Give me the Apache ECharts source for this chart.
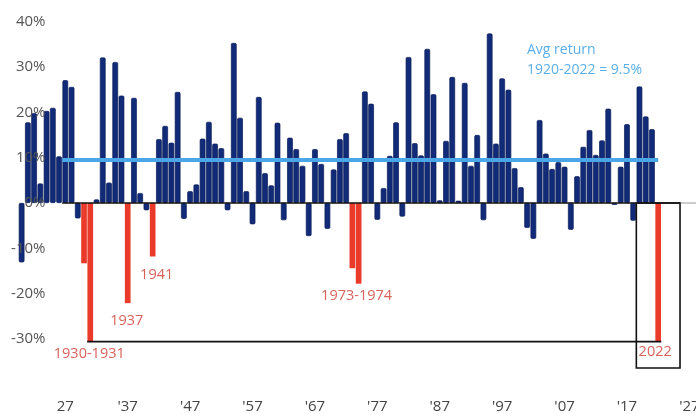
<!DOCTYPE html>
<html>
<head>
<meta charset="utf-8">
<title>Annual returns 1920-2022</title>
<script src="https://cdn.jsdelivr.net/npm/echarts@6/dist/echarts.min.js"></script>
<style>
  html, body { margin: 0; padding: 0; background: #ffffff; }
  #chart { width: 696px; height: 414px; }
</style>
</head>
<body>
<div id="chart"></div>
<script>
// Calendar years on the category axis (the last five are left empty as headroom)
const years = [
  '1920','1921','1922','1923','1924','1925','1926','1927','1928','1929',
  '1930','1931','1932','1933','1934','1935','1936','1937','1938','1939',
  '1940','1941','1942','1943','1944','1945','1946','1947','1948','1949',
  '1950','1951','1952','1953','1954','1955','1956','1957','1958','1959',
  '1960','1961','1962','1963','1964','1965','1966','1967','1968','1969',
  '1970','1971','1972','1973','1974','1975','1976','1977','1978','1979',
  '1980','1981','1982','1983','1984','1985','1986','1987','1988','1989',
  '1990','1991','1992','1993','1994','1995','1996','1997','1998','1999',
  '2000','2001','2002','2003','2004','2005','2006','2007','2008','2009',
  '2010','2011','2012','2013','2014','2015','2016','2017','2018','2019',
  '2020','2021','2022','2023','2024','2025','2026','2027'
];

// Annual return (%) for 1920 ... 2022
const annualReturns = [
  -13.1, 17.8, 19.8,  4.3, 20.3, 21.0, 10.3, 27.1, 25.6, -3.4,
  -13.3,-30.6,  0.8, 32.1,  4.5, 31.1, 23.7,-22.1, 23.2,  2.2,
   -1.6,-11.8, 14.1, 17.0, 13.3, 24.5, -3.5,  2.6,  4.1, 14.2,
   17.9, 13.1, 12.1, -1.6, 35.3, 18.8,  2.6, -4.7, 23.4,  6.6,
    3.9, 17.7, -3.8, 14.4, 11.9,  8.2, -7.3, 11.9,  8.6, -5.7,
    7.4, 14.1, 15.4,-14.4,-17.8, 24.6, 21.9, -3.7,  3.3, 10.4,
   17.8, -3.0, 32.2, 13.2, 10.5, 34.0, 24.0,  0.6, 13.7, 27.8,
    0.5, 26.5,  8.2, 15.0, -3.8, 37.4, 13.1, 27.5, 25.0,  7.7,
    3.5, -5.5, -7.9, 18.3, 10.9,  7.5,  9.0,  8.0, -5.9,  5.9,
   12.4, 16.1, 10.6, 13.8, 20.8, -0.4,  8.0, 17.4, -3.9, 25.7,
   19.1, 16.3,-30.6
];

// Years picked out in red, and the captions written under them
const downYears = ['1930', '1931', '1937', '1941', '1973', '1974', '2022'];
const downCaptions = {
  '1931': '1930-1931',
  '1937': '1937',
  '1941': '1941',
  '1974': '1973-1974',
  '2022': '2022'
};

// Average annual return over the whole period
const avgReturn = 9.5;
const avgPeriod = '1920-2022';

// Decade ticks on the x axis
const tickYears = ['1927','1937','1947','1957','1967','1977','1987','1997','2007','2017','2027'];
const tickLabels = ['27', "'37", "'47", "'57", "'67", "'77", "'87", "'97", "'07", "'17", "'27"];

// Value axis range
const yMin = -40, yMax = 40, yStep = 10;

const NAVY = '#112b78';
const NAVY_EDGE = '#0a1d58';
const RED = '#ea3a2a';
const RED_TEXT = '#d9625b';
const SKY = '#4aa6e6';
const FONT = '"Open Sans", "Noto Sans", sans-serif';

// Caption placement under each red bar: [dx, distance]
const captionPlacement = {
  '1931': [-1, 5],
  '1937': [-1, 10],
  '1941': [4, 11],
  '1974': [-2, 5],
  '2022': [-3, 3]
};

const barData = annualReturns.map((v, i) => {
  const yr = years[i];
  if (downYears.indexOf(yr) < 0) return v;
  const item = {
    value: v,
    itemStyle: { color: RED, borderColor: RED, borderWidth: 0, borderRadius: 0 }
  };
  if (downCaptions[yr]) {
    const p = captionPlacement[yr];
    item.label = {
      show: true,
      position: 'bottom',
      distance: p[1],
      offset: [p[0], 0],
      formatter: downCaptions[yr],
      color: RED_TEXT,
      fontFamily: FONT,
      fontSize: 14.5
    };
  }
  return item;
});

const chart = echarts.init(document.getElementById('chart'), null, { renderer: 'canvas' });

const option = {
  animation: false,
  backgroundColor: '#ffffff',
  grid: {
    left: 18.5, right: 3.5, top: 21.7, bottom: 29.7,
    containLabel: false,
    outerBoundsMode: 'none'
  },
  xAxis: {
    type: 'category',
    data: years,
    boundaryGap: true,
    axisLine: { show: false },
    axisTick: { show: false },
    splitLine: { show: false },
    axisLabel: {
      interval: (idx, name) => tickYears.indexOf(name) >= 0,
      formatter: (name) => {
        const k = tickYears.indexOf(name);
        return k >= 0 ? tickLabels[k] : '';
      },
      margin: 15,
      hideOverlap: false,
      color: '#444444',
      fontFamily: FONT,
      fontSize: 15
    }
  },
  yAxis: {
    type: 'value',
    min: yMin,
    max: yMax,
    interval: yStep,
    z: 5,
    axisLine: { show: false },
    axisTick: { show: false },
    splitLine: { show: false },
    axisLabel: {
      inside: true,
      align: 'right',
      margin: 27,
      formatter: (v) => (v === yMin ? '' : v + '%'),
      color: '#555555',
      fontFamily: FONT,
      fontSize: 15
    }
  },
  series: [{
    type: 'bar',
    data: barData,
    barCategoryGap: '9%',
    itemStyle: {
      color: NAVY,
      borderColor: NAVY_EDGE,
      borderWidth: 0.7,
      borderRadius: 1.2
    },
    label: { show: false }
  }]
};

chart.setOption(option);

// Annotations laid out from the axes' own scales
function px(year, value) {
  return chart.convertToPixel({ gridIndex: 0 }, [years.indexOf(year), value]);
}
const band = px('1921', 0)[0] - px('1920', 0)[0];
const half = band / 2;

const zero0 = px('1927', 0);
const boxRightX = px('2025', 0)[0] + half;
const boxLeftX = px('2018', 0)[0] + half;
const boxBottomY = px('2025', -36.4)[1];
const gridRightX = px('2027', 0)[0] + half;

const worst = annualReturns[years.indexOf('2022')];
const low1931 = px('1931', worst);
const low2022 = px('2022', worst);

const avgStart = px('1927', avgReturn);
const avgEnd = px('2022', avgReturn);

chart.setOption({
  graphic: [
    { // zero baseline
      type: 'line', z: 100,
      shape: { x1: zero0[0] - half, y1: zero0[1], x2: boxRightX, y2: zero0[1] },
      style: { stroke: '#111111', lineWidth: 1.6 }
    },
    {
      type: 'line', z: 100,
      shape: { x1: boxRightX, y1: zero0[1], x2: gridRightX + 6, y2: zero0[1] },
      style: { stroke: '#9a9a9a', lineWidth: 1 }
    },
    { // link from the 1931 low to the 2022 low
      type: 'line', z: 100,
      shape: { x1: low1931[0] - half, y1: low1931[1], x2: low2022[0] + half, y2: low2022[1] },
      style: { stroke: '#111111', lineWidth: 1.8 }
    },
    { // frame round 2022
      type: 'rect', z: 100,
      shape: { x: boxLeftX, y: zero0[1], width: boxRightX - boxLeftX, height: boxBottomY - zero0[1] },
      style: { fill: 'none', stroke: '#111111', lineWidth: 1.6 }
    },
    { // average return line
      type: 'line', z: 101,
      shape: { x1: avgStart[0] - half, y1: avgStart[1], x2: avgEnd[0], y2: avgEnd[1] },
      style: { stroke: SKY, lineWidth: 4 }
    },
    {
      type: 'text', z: 101,
      left: 527, top: 40,
      style: {
        text: 'Avg return\n' + avgPeriod + ' = ' + avgReturn + '%',
        fill: '#5aafea',
        fontFamily: FONT,
        fontSize: 14,
        lineHeight: 20
      }
    }
  ]
});
</script>
</body>
</html>
